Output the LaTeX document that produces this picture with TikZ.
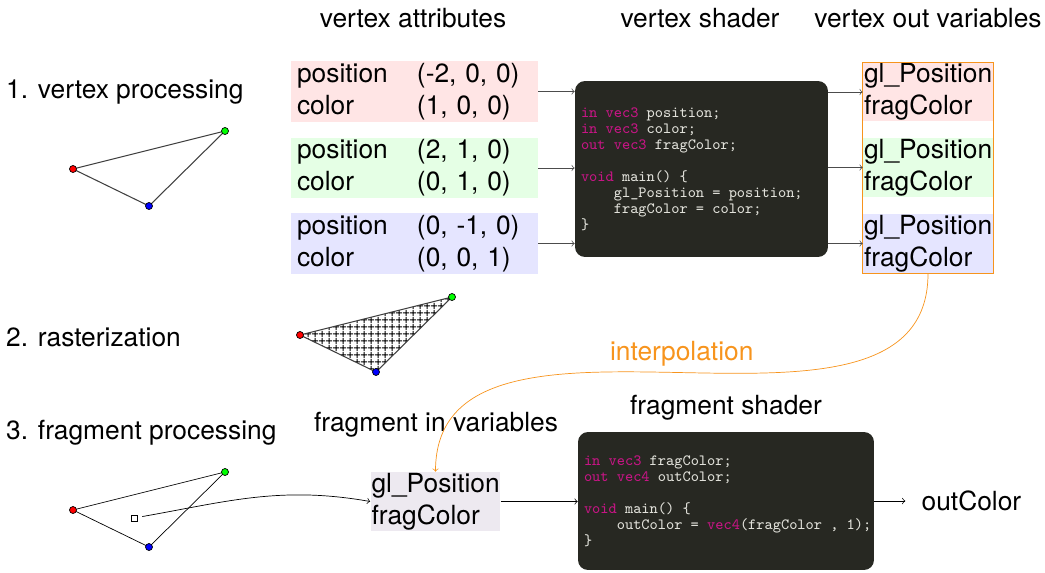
\documentclass[tikz,border=0pt]{standalone}
\usepackage{fontspec}
\setmainfont{TeX Gyre Heros}
\usetikzlibrary{patterns.meta,fit,positioning}
\definecolor{codebg}{RGB}{39,40,34}
\definecolor{codefg}{RGB}{225,225,218}
\definecolor{codekw}{RGB}{199,21,133}
\definecolor{fragbg}{RGB}{237,233,240}
\definecolor{interp}{RGB}{247,148,29}
\newcommand{\kw}[1]{\textcolor{codekw}{#1}}
\newcommand{\csp}{\hspace*{0.525em}}
\newcommand{\codefont}{\ttfamily\fontsize{8.9}{9.1}\selectfont}

\begin{document}
\begin{tikzpicture}[x=0.02cm, y=-0.02cm,
    every node/.style={font=\fontsize{15}{18.2}\selectfont},
    attrbox/.style={minimum width=4.94cm, minimum height=1.22cm, inner xsep=0.12cm, inner ysep=0pt, text width=4.70cm, align=left},
    varbox/.style={minimum width=2.6cm, minimum height=1.18cm, inner xsep=0.02cm, inner ysep=0pt, text width=2.56cm, align=left},
    shaderbox/.style={fill=codebg, rounded corners=0.2cm, inner xsep=0.12cm, align=left, text=codefg, font=\codefont},
    vdot/.style={circle, draw, inner sep=0pt, minimum size=0.14cm},
    flow/.style={->, black!70}]
      \useasboundingbox (0,0) rectangle (1045,572);
      % column titles
      \node (tattr) at (413,18) {vertex attributes};
      \node (tvs) at (700,18) {vertex shader};
      \node (tout) at (928,18) {vertex out variables};
      \node (tfin) at (436,425) {fragment in variables};
      \node (tfs) at (726,408) {fragment shader};
      % stages
      \node[anchor=west] (s1) at (0,92) {1. vertex processing};
      \node[anchor=west] (s2) at (0,337) {2. rasterization};
      \node[anchor=west] (s3) at (0,433) {3. fragment processing};
      % triangles
      \foreach \t/\dx/\dy in {1/0/0, 2/227/166, 3/0/341} {
        \coordinate (r\t) at ({73+\dx},{169+\dy});
        \coordinate (g\t) at ({225+\dx},{131+\dy});
        \coordinate (b\t) at ({149+\dx},{206+\dy});
      }
      \fill[pattern={Hatch[distance=4pt, line width=0.6pt]}] (r2) -- (g2) -- (b2) -- cycle;
      \draw[black!75, line width=0.6pt] (r1) -- (g1) -- (b1) -- cycle;
      \draw[black!75, line width=0.6pt] (r2) -- (g2) -- (b2) -- cycle;
      \draw (r3) -- (g3) -- (b3) -- cycle;
      \foreach \t in {1,2,3} {
        \node[vdot, fill=red] (rd\t) at (r\t) {};
        \node[vdot, fill=green] (gd\t) at (g\t) {};
        \node[vdot, fill=blue] (bd\t) at (b\t) {};
      }
      % vertex attributes
      \node[attrbox, fill=red!10] (ared) at (414.5,91.5) {\makebox[2.4cm][l]{position}(-2, 0, 0)\\\makebox[2.4cm][l]{color}(1, 0, 0)};
      \node[attrbox, fill=green!10] (agreen) at (414.5,168) {\makebox[2.4cm][l]{position}(2, 1, 0)\\\makebox[2.4cm][l]{color}(0, 1, 0)};
      \node[attrbox, fill=blue!10] (ablue) at (414.5,243.5) {\makebox[2.4cm][l]{position}(0, -1, 0)\\\makebox[2.4cm][l]{color}(0, 0, 1)};
      % vertex shader
      \node[shaderbox, minimum width=5.06cm, minimum height=3.52cm, text width=4.82cm] (vs) at (701.5,169) {%
        \kw{in\csp vec3}\csp position;\\
        \kw{in\csp vec3}\csp color;\\
        \kw{out\csp vec3}\csp fragColor;\\[9.1pt]
        \kw{void}\csp main()\csp\{\\
        \csp\csp\csp\csp gl\_Position\csp=\csp position;\\
        \csp\csp\csp\csp fragColor\csp=\csp color;\\
        \}};
      % vertex out variables
      \node[varbox, fill=red!10] (ored) at (928,92) {gl\_Position\\fragColor};
      \node[varbox, fill=green!10] (ogreen) at (928,167.5) {gl\_Position\\fragColor};
      \node[varbox, fill=blue!10] (oblue) at (928,243.5) {gl\_Position\\fragColor};
      \node[draw=interp, fit=(ored)(oblue), inner sep=0pt] (obox) {};
      \foreach \a in {red,green,blue} {
        \draw[flow] (a\a.east) -- (a\a.east -| vs.west);
        \draw[flow] (o\a.west -| vs.east) -- (o\a.west);
      }
      % fragment stage
      \node[varbox, fill=fragbg] (fin) at (435.5,501.5) {gl\_Position\\fragColor};
      \node[shaderbox, minimum width=5.92cm, minimum height=2.76cm, text width=5.68cm] (fs) at (726,501) {%
        \kw{in\csp vec3}\csp fragColor;\\
        \kw{out\csp vec4}\csp outColor;\\[9.1pt]
        \kw{void}\csp main()\csp\{\\
        \csp\csp\csp\csp outColor\csp=\csp\kw{vec4}(fragColor\csp,\csp 1);\\
        \}};
      \node[right=0.62cm of fs, inner xsep=0.32cm] (outc) {outColor};
      \draw[->] (fin.east) -- (fin.east -| fs.west);
      \draw[->] (fs.east) -- (outc.west);
      \node[draw, fill=white, inner sep=0pt, minimum size=0.12cm] (frag) at (134,518) {};
      \draw[->, shorten <=0.1cm] (frag) to[out=10, in=170] (fin.west);
      \draw[->, interp] (obox.south) to[out=-90, in=90] node[midway, above, text=interp] {interpolation} (fin.north);
\end{tikzpicture}
\end{document}
